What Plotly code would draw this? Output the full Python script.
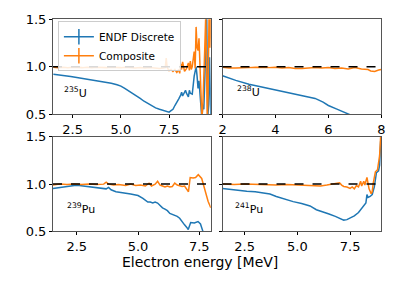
import plotly.graph_objects as go

# ---------------- data ----------------
U235_blue_x = [1.5, 1.8, 2.1, 2.4, 2.7, 3.0, 3.3, 3.6, 3.9, 4.2, 4.5, 4.8, 5.0, 5.2, 5.4, 5.6, 5.8, 6.0,
               6.2, 6.4, 6.6, 6.8, 7.0, 7.2, 7.4, 7.5, 7.6, 7.7, 7.8, 7.9, 8.0, 8.1, 8.15, 8.2, 8.3, 8.35,
               8.4, 8.5, 8.55, 8.6, 8.7, 8.75, 8.8, 8.85, 8.9, 8.95, 9.0, 9.05, 9.1, 9.15, 9.2, 9.25, 9.3,
               9.35, 9.4, 9.45, 9.5, 9.55, 9.6, 9.66]
U235_blue_y = [0.92, 0.915, 0.905, 0.895, 0.885, 0.875, 0.87, 0.86, 0.85, 0.84, 0.825, 0.81, 0.795, 0.77,
               0.745, 0.715, 0.69, 0.665, 0.635, 0.61, 0.585, 0.565, 0.55, 0.535, 0.525, 0.52, 0.535, 0.55,
               0.59, 0.62, 0.66, 0.70, 0.73, 0.69, 0.74, 0.75, 0.72, 0.68, 0.75, 0.72, 0.71, 0.86, 0.90,
               0.95, 1.0, 0.90, 0.77, 0.85, 0.67, 0.60, 0.45, 0.60, 0.55, 0.86, 1.2, 1.55, 0.45, 0.6, 1.1, 0.5]
U235_orange_x = [1.5, 1.75, 2.0, 2.25, 2.5, 2.75, 3.0, 3.25, 3.5, 3.75, 4.0, 4.25, 4.5, 4.75, 5.0, 5.25,
                 5.5, 5.75, 6.0, 6.25, 6.5, 6.75, 7.0, 7.2, 7.3, 7.35, 7.4, 7.5, 7.6, 7.7, 7.8, 7.9, 8.0,
                 8.05, 8.1, 8.15, 8.2, 8.3, 8.4, 8.5, 8.55, 8.6, 8.65, 8.7, 8.75, 8.8, 8.85, 8.9, 8.95,
                 9.0, 9.05, 9.1, 9.15, 9.2, 9.25, 9.3, 9.35, 9.4, 9.45, 9.48, 9.52, 9.57, 9.62, 9.66]
U235_orange_y = [0.995, 0.99, 0.995, 0.99, 0.995, 0.99, 0.99, 0.995, 0.99, 0.995, 0.99, 0.99, 0.995, 0.99,
                 0.99, 0.995, 0.99, 0.985, 0.99, 0.985, 0.99, 0.985, 0.98, 0.985, 0.99, 1.09, 0.99, 0.96,
                 0.97, 0.95, 0.97, 0.94, 0.97, 0.93, 1.03, 0.97, 1.05, 0.95, 0.98, 1.04, 0.96, 1.06, 0.97,
                 1.0, 1.08, 1.16, 0.98, 1.42, 1.2, 1.17, 1.3, 1.03, 0.8, 0.45, 0.6, 0.83, 1.2, 1.55, 1.0,
                 0.45, 0.7, 1.55, 1.2, 1.55]

U238_blue_x = [2.0, 2.5, 3.0, 3.5, 4.0, 4.5, 5.0, 5.5, 5.8, 6.0, 6.3, 6.6, 6.8, 7.0, 7.5, 8.0]
U238_blue_y = [0.905, 0.855, 0.815, 0.785, 0.757, 0.72, 0.695, 0.665, 0.625, 0.59, 0.555, 0.52, 0.495,
               0.47, 0.41, 0.35]
U238_orange_x = [2.0, 2.25, 2.5, 2.75, 3.0, 3.25, 3.5, 3.75, 4.0, 4.25, 4.5, 4.75, 5.0, 5.25, 5.5, 5.75,
                 6.0, 6.25, 6.5, 6.75, 7.0, 7.25, 7.5, 7.6, 7.75, 7.9, 8.0]
U238_orange_y = [0.995, 0.985, 0.985, 0.985, 0.99, 0.995, 0.99, 0.99, 0.995, 0.985, 0.99, 0.98, 0.98,
                 0.985, 0.99, 0.985, 0.99, 0.98, 0.985, 0.975, 0.99, 0.975, 0.97, 0.955, 0.95, 0.965, 0.97]

Pu239_blue_x = [1.53, 1.8, 2.1, 2.4, 2.6, 2.9, 3.2, 3.5, 3.7, 3.8, 3.9, 4.1, 4.4, 4.7, 5.0, 5.2, 5.4,
                5.5, 5.6, 5.7, 5.8, 5.9, 6.0, 6.1, 6.2, 6.3, 6.45, 6.6, 6.7, 6.8, 6.9, 7.0, 7.05, 7.15,
                7.3, 7.45, 7.55, 7.65, 7.8, 7.97]
Pu239_blue_y = [0.955, 0.965, 0.975, 0.985, 0.985, 0.975, 0.965, 0.955, 0.95, 0.965, 0.94, 0.92, 0.91,
                0.895, 0.88, 0.85, 0.81, 0.81, 0.80, 0.81, 0.80, 0.77, 0.75, 0.735, 0.72, 0.69, 0.675,
                0.66, 0.64, 0.60, 0.57, 0.54, 0.52, 0.595, 0.59, 0.605, 0.58, 0.50, 0.45, 0.42]
Pu239_orange_x = [1.53, 1.8, 2.1, 2.4, 2.7, 3.0, 3.3, 3.6, 3.7, 3.8, 4.0, 4.2, 4.5, 4.7, 4.9, 5.1, 5.3,
                  5.45, 5.55, 5.7, 5.8, 5.9, 6.0, 6.1, 6.2, 6.3, 6.4, 6.5, 6.6, 6.7, 6.8, 6.9, 7.0,
                  7.06, 7.13, 7.25, 7.35, 7.46, 7.6, 7.73, 7.86, 7.97]
Pu239_orange_y = [0.99, 1.0, 0.995, 1.0, 0.995, 1.0, 0.995, 1.0, 1.02, 1.0, 0.99, 0.995, 0.985, 1.0,
                  0.985, 0.99, 0.98, 1.01, 0.98, 1.0, 1.03, 0.99, 0.98, 0.97, 0.98, 0.97, 0.975, 1.01,
                  0.99, 0.98, 0.975, 0.98, 0.94, 0.92, 1.07, 1.065, 1.07, 1.10, 1.06, 0.93, 0.82, 0.75]

Pu241_blue_x = [1.45, 1.8, 2.2, 2.6, 3.0, 3.4, 3.7, 4.0, 4.4, 4.8, 5.2, 5.6, 5.9, 6.2, 6.5, 6.8, 7.0,
                7.2, 7.35, 7.5, 7.7, 7.9, 8.05, 8.15, 8.25, 8.3, 8.35, 8.45, 8.55, 8.65, 8.75, 8.85,
                8.9, 8.95, 8.98]
Pu241_blue_y = [0.955, 0.945, 0.935, 0.925, 0.92, 0.91, 0.895, 0.87, 0.84, 0.815, 0.795, 0.77, 0.73,
                0.71, 0.685, 0.66, 0.64, 0.62, 0.625, 0.64, 0.665, 0.70, 0.74, 0.77, 0.80, 0.89, 0.86,
                0.87, 0.89, 0.97, 1.12, 1.14, 1.2, 1.45, 1.5]
Pu241_orange_x = [1.45, 2.0, 2.5, 3.0, 3.5, 4.0, 4.5, 5.0, 5.5, 5.8, 6.1, 6.4, 6.7, 6.9, 7.0, 7.1, 7.2,
                  7.35, 7.5, 7.6, 7.7, 7.8, 7.9, 8.0, 8.05, 8.15, 8.2, 8.3, 8.35, 8.4, 8.5, 8.55, 8.6,
                  8.7, 8.8, 8.9, 8.95, 8.98]
Pu241_orange_y = [1.0, 0.995, 1.0, 0.995, 0.995, 0.99, 0.995, 0.99, 0.985, 0.98, 0.98, 0.99, 1.0,
                  1.01, 1.015, 0.99, 0.975, 0.97, 0.955, 0.97, 0.95, 0.985, 0.97, 1.03, 0.98, 1.03,
                  0.99, 1.07, 1.0, 0.95, 0.90, 0.92, 1.01, 1.13, 1.15, 1.3, 1.5, 1.5]

isotope_labels = ["<sup>235</sup>U", "<sup>238</sup>U", "<sup>239</sup>Pu", "<sup>241</sup>Pu"]
x_ranges = [[1.48, 9.66], [2.0, 8.0], [1.53, 7.97], [1.45, 8.98]]
x_tickvals = [[2.5, 5.0, 7.5], [2, 4, 6, 8], [2.5, 5.0, 7.5], [2.5, 5.0, 7.5]]
x_ticktext = [["2.5", "5.0", "7.5"], ["2", "4", "6", "8"], ["2.5", "5.0", "7.5"], ["2.5", "5.0", "7.5"]]
y_range = [0.5, 1.5]
y_tickvals = [0.5, 1.0, 1.5]
y_ticktext = ["0.5", "1.0", "1.5"]
REF_LEVEL = 1.0
series_names = ["ENDF Discrete", "Composite"]
x_title = "Electron energy [MeV]"

# ---------------- style ----------------
W, H = 399, 284
BLUE = "#1f77b4"
ORANGE = "#ff7f0e"
FONT = "DejaVu Sans"


def px(x):
    return x / W


def py(y):
    return 1 - y / H


# panel boxes in window pixels: (left, right, top, bottom)
boxes = [(50, 211, 13, 113), (223, 385, 13, 113), (50, 211, 137, 237), (223, 385, 137, 237)]
label_pos = [(59, 90), (236, 89), (62, 213), (234, 213)]

panels = [
    (U235_blue_x, U235_blue_y, U235_orange_x, U235_orange_y),
    (U238_blue_x, U238_blue_y, U238_orange_x, U238_orange_y),
    (Pu239_blue_x, Pu239_blue_y, Pu239_orange_x, Pu239_orange_y),
    (Pu241_blue_x, Pu241_blue_y, Pu241_orange_x, Pu241_orange_y),
]

fig = go.Figure()
layout = dict(
    width=W, height=H, margin=dict(l=0, r=0, t=0, b=0),
    paper_bgcolor="white", plot_bgcolor="white",
    font=dict(family=FONT, size=13, color="black"),
    showlegend=True,
)
shapes = []
annotations = []

for i, (bx, by, ox, oy) in enumerate(panels):
    n = "" if i == 0 else str(i + 1)
    xa, ya = "x" + n, "y" + n
    l, r, t, b = boxes[i]
    layout["xaxis" + n] = dict(
        domain=[px(l), px(r)], range=x_ranges[i], anchor=ya,
        tickvals=x_tickvals[i], ticktext=x_ticktext[i],
        ticks="outside", ticklen=3, tickwidth=1, tickcolor="black",
        showline=True, mirror=True, linecolor="#555", linewidth=1,
        showgrid=False, zeroline=False, tickfont=dict(size=13),
    )
    layout["yaxis" + n] = dict(
        domain=[py(b), py(t)], range=y_range, anchor=xa,
        tickvals=y_tickvals, ticktext=y_ticktext,
        showticklabels=(i % 2 == 0),
        ticks="outside", ticklen=3, tickwidth=1, tickcolor="black",
        showline=True, mirror=True, linecolor="#555", linewidth=1,
        showgrid=False, zeroline=False, tickfont=dict(size=13),
    )
    fig.add_trace(go.Scatter(x=bx, y=by, mode="lines", line=dict(color=BLUE, width=1.5),
                             xaxis=xa, yaxis=ya, showlegend=False, hoverinfo="skip"))
    fig.add_trace(go.Scatter(x=ox, y=oy, mode="lines", line=dict(color=ORANGE, width=1.5),
                             xaxis=xa, yaxis=ya, showlegend=False, hoverinfo="skip"))
    shapes.append(dict(type="line", xref=xa + " domain", yref=ya, x0=0, x1=1,
                       y0=REF_LEVEL, y1=REF_LEVEL, layer="above",
                       line=dict(color="black", width=1.5, dash="dash")))
    lx, ly = label_pos[i]
    annotations.append(dict(text=isotope_labels[i], xref="paper", yref="paper",
                            x=px(lx), y=py(ly), xanchor="left", yanchor="middle",
                            showarrow=False, font=dict(size=11, family=FONT)))

# legend entries (errorbar-style line with vertical tick)
for name, col in zip(series_names, [BLUE, ORANGE]):
    fig.add_trace(go.Scatter(x=[None], y=[None], mode="lines+markers", name=name,
                             line=dict(color=col, width=1.5),
                             marker=dict(symbol="line-ns-open", size=11, color=col,
                                         line=dict(color=col, width=1.5))))

annotations.append(dict(text=x_title, xref="paper", yref="paper", x=px(199.5), y=py(269),
                        xanchor="center", yanchor="middle", showarrow=False, borderpad=0,
                        font=dict(size=14, family=FONT)))

layout["shapes"] = shapes
layout["annotations"] = annotations
layout["legend"] = dict(x=px(55), y=py(15), xanchor="left", yanchor="top",
                        bgcolor="rgba(255,255,255,0.85)", bordercolor="#cccccc", borderwidth=1,
                        font=dict(size=10.5, family=FONT), itemwidth=30,
                        tracegroupgap=0)
fig.update_layout(**layout)
fig.write_html(
    "out.html",
    config={"displayModeBar": False},
    post_script="document.body.style.margin='0';document.body.style.overflow='hidden';",
)
